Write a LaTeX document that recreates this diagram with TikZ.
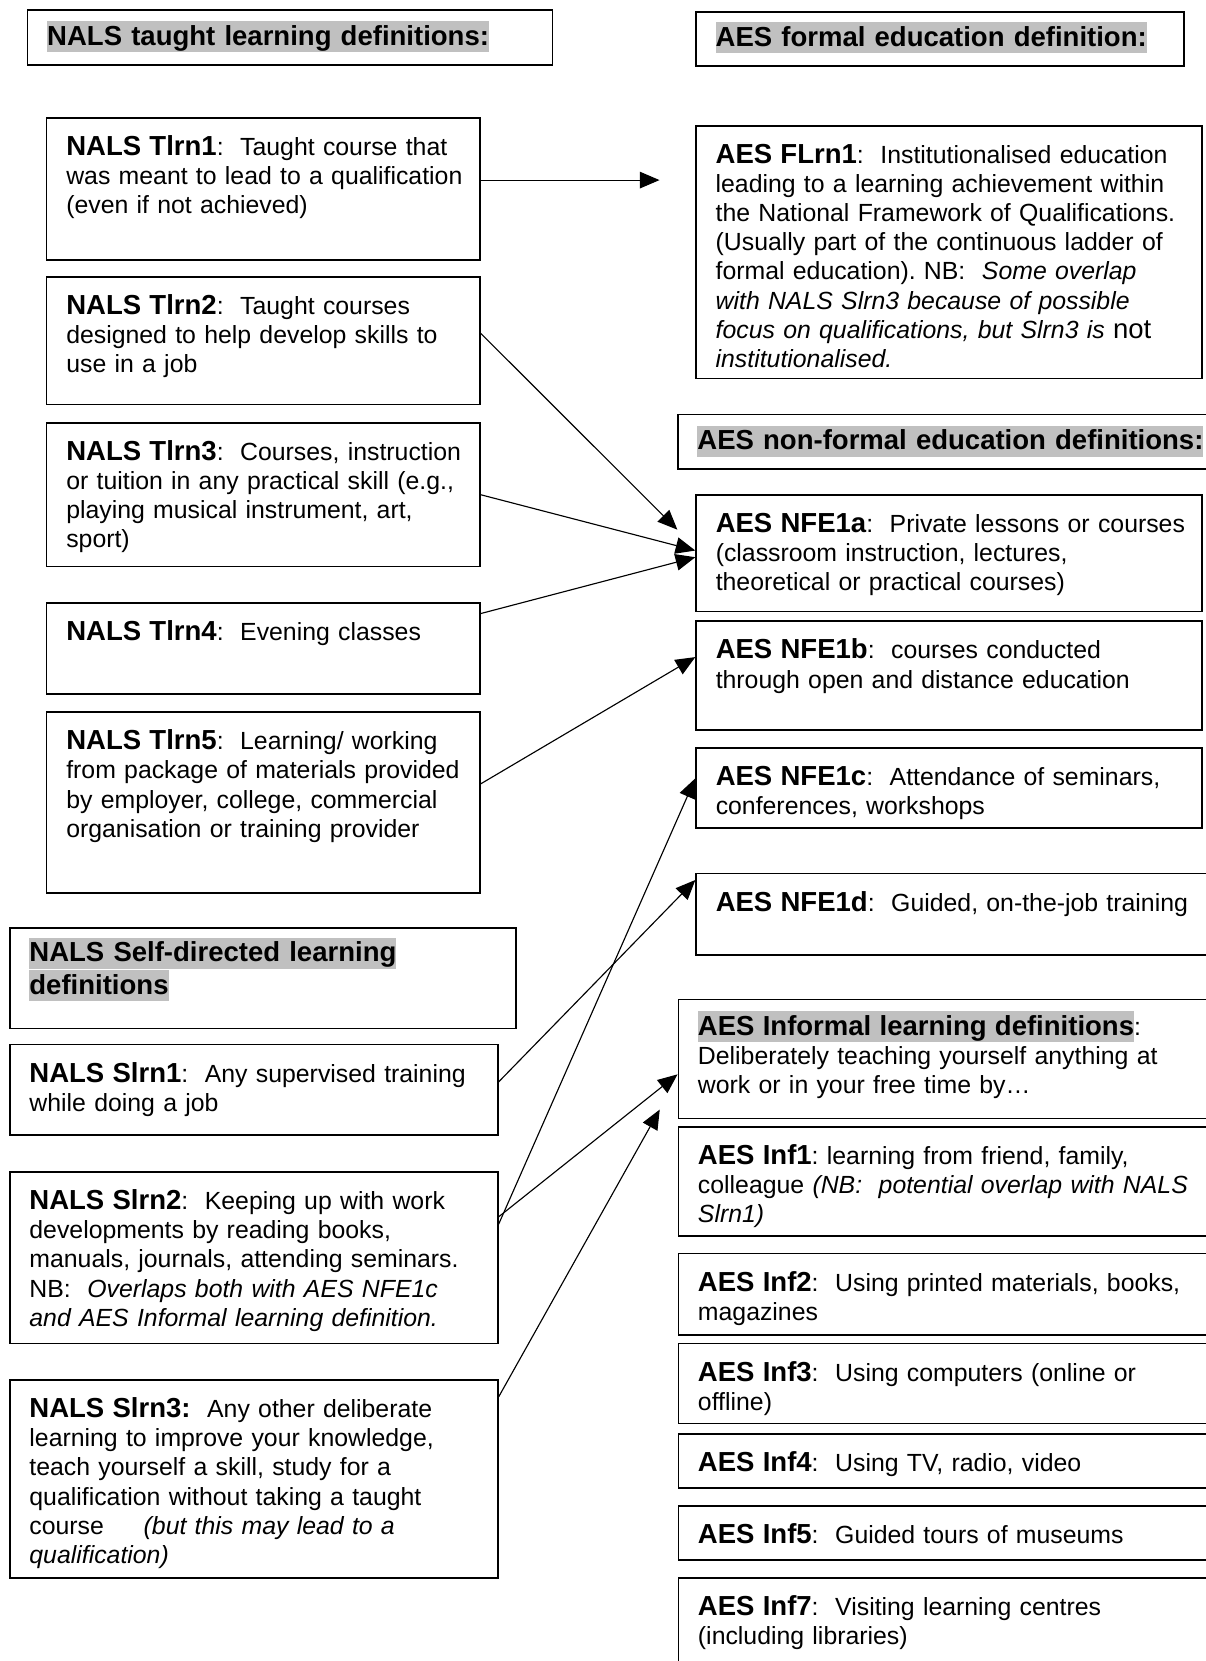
\documentclass[tikz,border=0pt]{standalone}
\usepackage{fontspec}
\setmainfont{Liberation Sans}
\usepackage{xcolor}
\usepackage{tikz}
\usetikzlibrary{calc,arrows.meta}

\definecolor{hlgray}{RGB}{192,192,192}
\newcommand{\lbl}[1]{{\fontsize{13.3}{14.08}\selectfont\bfseries #1}}
\newcommand{\hlt}[1]{{\setlength{\fboxsep}{0pt}\colorbox{hlgray}{\rule[-3.2pt]{0pt}{15pt}\fontsize{13.3}{15.6}\selectfont\bfseries #1}}}

\begin{document}
\begin{tikzpicture}[x=0.512pt, y=-0.512pt,
    defbox/.style 2 args={draw, line width=0.75pt, anchor=north west, align=left,
      inner xsep=9.5pt, inner ysep=0pt, text height=18.2pt,
      text width=#1, text depth=#2, font=\fontsize{12}{14.08}\selectfont,
      execute at begin node={\frenchspacing\rightskip=-3em plus 1fil\relax}},
    headbox/.style 2 args={defbox={#1}{#2}, text height=17pt,
      font=\fontsize{13.3}{15.6}\selectfont},
    arr/.style={-{Triangle[length=9.5pt,width=8pt]}, line width=0.55pt}
    ]
    \useasboundingbox (0,0) rectangle (1138,1568);
    \fill[white] (0,0) rectangle (1138,1568);

    % NALS side
    \node[headbox={234.6pt}{9.6pt}] (nalsT) at (25.3,8.8) {\hlt{NALS taught learning definitions:}};
    \node[defbox={190.4pt}{50.4pt}] (tlrn1) at (43.3,110.7)
      {\lbl{NALS Tlrn1}:~ Taught course that\\ was meant to lead to a qualification\\ (even if not achieved)};
    \node[defbox={190.4pt}{43.3pt}] (tlrn2) at (43.3,260.8)
      {\lbl{NALS Tlrn2}:~ Taught courses\\ designed to help develop skills to\\ use in a job};
    \node[defbox={190.4pt}{51.2pt}] (tlrn3) at (43.3,398.5)
      {\lbl{NALS Tlrn3}:~ Courses, instruction\\ or tuition in any practical skill (e.g.,\\ playing musical instrument, art,\\ sport)};
    \node[defbox={190.4pt}{25.6pt}] (tlrn4) at (43.3,568.7)
      {\lbl{NALS Tlrn4}:~ Evening classes};
    \node[defbox={190.4pt}{69.1pt}] (tlrn5) at (43.3,671.5)
      {\lbl{NALS Tlrn5}:~ Learning/ working\\ from package of materials provided\\ by employer, college, commercial\\ organisation or training provider};

    \node[headbox={225.7pt}{32.2pt}, text height=16.4pt] (slhead) at (8.5,875.3)
      {\hlt{NALS Self-directed learning}\\ \hlt{definitions}};
    \node[defbox={216.9pt}{25.4pt}] (slrn1) at (8.5,985.4)
      {\lbl{NALS Slrn1}:~ Any supervised training\\ while doing a job};
    \node[defbox={216.9pt}{64.7pt}] (slrn2) at (8.5,1105.6)
      {\lbl{NALS Slrn2}:~ Keeping up with work\\ developments by reading books,\\ manuals, journals, attending seminars.\\
       NB:~ \textit{Overlaps both with AES NFE1c}\\ \textit{and AES Informal learning definition.}};
    \node[defbox={216.9pt}{77.5pt}] (slrn3) at (8.5,1302)
      {\lbl{NALS Slrn3:}~ Any other deliberate\\ learning to improve your knowledge,\\ teach yourself a skill, study for a\\
       qualification without taking a taught\\ course\hspace{1.6em}\textit{(but this may lead to a}\\ \textit{qualification)}};

    % AES side
    \node[headbox={216.9pt}{9.4pt}, text height=16.7pt] (aesF) at (656.3,10.4) {\hlt{AES formal education definition:}};
    \node[defbox={225.6pt}{103.9pt}] (flrn1) at (656.3,118)
      {\lbl{AES FLrn1}:~ Institutionalised education\\ leading to a learning achievement within\\ the National Framework of Qualifications.\\
       (Usually part of the continuous ladder of\\ formal education). NB:~ \textit{Some overlap}\\
       \textit{with NALS Slrn3 because of possible}\\ \textit{focus on qualifications, but Slrn3 is} {\fontsize{13.3}{14.08}\selectfont not}\\ \textit{institutionalised.}};

    \node[headbox={242.6pt}{9.2pt}, text height=17.1pt] (nfhead) at (639.1,390.6) {\hlt{AES non-formal education definitions:}};
    \node[defbox={225.5pt}{38.2pt}] (nfe1a) at (656.4,466.4)
      {\lbl{AES NFE1a}:~ Private lessons or courses\\ (classroom instruction, lectures,\\ theoretical or practical courses)};
    \node[defbox={225.5pt}{34.3pt}] (nfe1b) at (656.4,585.7)
      {\lbl{AES NFE1b}:~ courses conducted\\ through open and distance education};
    \node[defbox={225.5pt}{20.4pt}] (nfe1c) at (656.4,705.3)
      {\lbl{AES NFE1c}:~ Attendance of seminars,\\ conferences, workshops};
    \node[defbox={233.7pt}{21pt}] (nfe1d) at (656.4,824)
      {\lbl{AES NFE1d}:~ Guided, on-the-job training};

    \node[defbox={242.3pt}{40.1pt}, text height=17.2pt] (infhead) at (639.6,943)
      {\hlt{AES Informal learning definitions}:\\ Deliberately teaching yourself anything at\\ work or in your free time by…};
    \node[defbox={242.3pt}{34.5pt}] (inf1) at (639.6,1063)
      {\lbl{AES Inf1}: learning from friend, family,\\ colleague \textit{(NB:~ potential overlap with NALS}\\ \textit{Slrn1)}};
    \node[defbox={242.3pt}{21.2pt}] (inf2) at (639.6,1182.5)
      {\lbl{AES Inf2}:~ Using printed materials, books,\\ magazines};
    \node[defbox={242.3pt}{20.4pt}] (inf3) at (639.6,1267.6)
      {\lbl{AES Inf3}:~ Using computers (online or\\ offline)};
    \node[defbox={242.3pt}{7.9pt}] (inf4) at (639.6,1352.8)
      {\lbl{AES Inf4}:~ Using TV, radio, video};
    \node[defbox={242.3pt}{8.1pt}] (inf5) at (639.6,1420.7)
      {\lbl{AES Inf5}:~ Guided tours of museums};
    \node[defbox={242.3pt}{33pt}] (inf7) at (639.6,1489)
      {\lbl{AES Inf7}:~ Visiting learning centres\\ (including libraries)};

    % links
    \coordinate (t1end) at (622.6,170);
    \coordinate (t2end) at (639.4,500);
    \coordinate (s3end) at (622.8,1047.4);
    \draw[arr] (tlrn1.east |- t1end) -- (t1end);
    \draw[arr] ($(tlrn2.east)+(0,-7)$) -- (t2end);
    \draw[arr] (tlrn3.east) -- ($(nfe1a.west)+(0,-2.5)$);
    \draw[arr] ($(tlrn4.east)+(0,-33)$) -- ($(nfe1a.west)+(0,3.8)$);
    \draw[arr] ($(tlrn5.east)+(0,-17.5)$) -- ($(nfe1b.west)+(0,-17.4)$);
    \draw[arr] ($(slrn1.east)+(0,-7.4)$) -- ($(nfe1d.west)+(0,-32.3)$);
    \draw[arr] ($(slrn2.east)+(0,-31.6)$) -- ($(nfe1c.west)+(0,-9)$);
    \draw[arr] ($(slrn2.east)+(0,-38.6)$) -- ($(infhead.west)+(0,14.5)$);
    \draw[arr] ($(slrn3.east)+(0,-77.5)$) -- (s3end);
\end{tikzpicture}
\end{document}
